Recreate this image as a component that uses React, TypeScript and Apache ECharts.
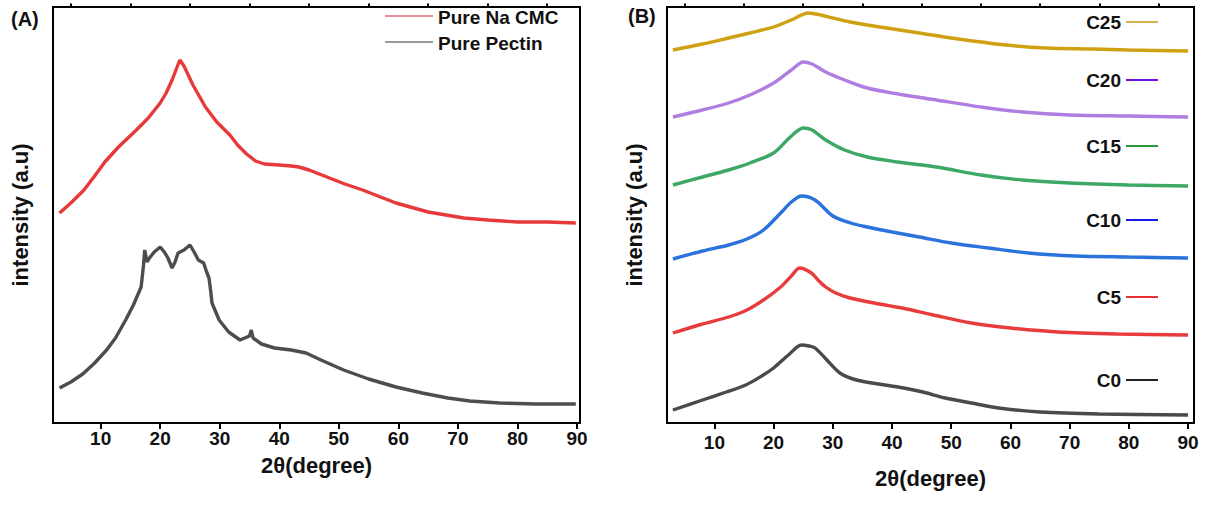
import React, { useEffect, useRef } from "react";
import * as echarts from "echarts";

// 2θ (degree) vs intensity (a.u., arbitrary offset units)
const pureNaCMC: [number, number][] = [
  [3.1, 210], [5, 220], [7.2, 233], [9, 247], [10.7, 261], [13, 276], [16, 293], [18, 305], [20, 320],
  [21, 330], [22, 343], [23.3, 363], [24, 357], [25.5, 338], [27.6, 316], [29.5, 301],
  [31.7, 288], [33, 278], [34.5, 269], [36, 262], [37.5, 259], [40, 258], [42, 257], [43.3, 256],
  [45, 253], [48, 246], [51, 239], [54, 233], [57, 226], [59.6, 220], [62, 216], [65, 211],
  [68, 208], [71, 205], [75, 203], [80, 201], [85, 201], [89.8, 200],
];
const purePectin: [number, number][] = [
  [3.1, 35], [5, 41], [7, 49], [9, 60], [11, 73], [12.5, 85], [14.2, 103], [15.5, 118],
  [16.8, 136], [17.2, 158], [17.4, 173], [17.8, 161], [18.2, 165], [19, 171], [20, 176],
  [20.7, 171], [21.3, 165], [22, 155], [22.5, 161], [23, 170], [24, 173], [25, 178],
  [25.7, 171], [26.4, 163], [27.3, 160], [27.8, 151], [28.2, 145], [28.5, 131], [28.7, 120],
  [29.9, 103], [31.5, 91], [33.4, 83], [35, 87], [35.3, 93], [35.6, 85], [37, 79], [39.2, 75],
  [42, 73], [44.5, 70], [47, 63], [50.8, 53], [55, 44], [59.6, 36], [64, 30], [68.3, 25],
  [72, 22], [77, 20], [83, 19], [89.8, 19],
];
const c25: [number, number][] = [
  [3, 373], [8, 379], [12.4, 385], [16, 390], [20, 396], [23, 403], [25.9, 410], [28, 408],
  [30, 405], [32.9, 401], [38, 396], [44.6, 390], [50, 385], [59.2, 378], [66, 375],
  [73.9, 374], [80, 373], [90, 372],
];
const c20: [number, number][] = [
  [3, 306], [8, 313], [12.4, 320], [16, 328], [20, 340], [23, 353], [25, 361], [26.5, 359],
  [28.8, 351], [32, 343], [35.8, 335], [41, 329], [47.5, 323], [55, 316], [62, 311],
  [70, 308], [80, 307], [90, 306],
];
const c15: [number, number][] = [
  [3, 238], [8, 246], [12.4, 253], [16, 260], [20, 270], [23, 287], [25, 295], [26.5, 293],
  [28.8, 283], [32, 273], [35.8, 266], [41, 261], [47.5, 256], [55, 248], [62, 243],
  [70, 240], [80, 238], [90, 237],
];
const c10: [number, number][] = [
  [3, 164], [8, 172], [12.4, 178], [15.5, 184], [18.3, 193], [21.2, 210], [23, 221],
  [24.7, 227], [27, 223], [30, 207], [33, 200], [35.8, 196], [40, 191], [44.6, 186],
  [50, 180], [56.3, 175], [63, 170], [71, 167], [80, 166], [90, 165],
];
const c5: [number, number][] = [
  [3, 90], [8, 99], [12.4, 106], [15.5, 113], [18.3, 123], [21.2, 136], [23, 147],
  [24.4, 155], [26.4, 150], [27.5, 143], [28.8, 136], [30.5, 130], [32.9, 125], [37, 120],
  [41.7, 115], [47, 108], [53.4, 100], [60, 95], [68, 91], [78, 89], [90, 88],
];
const c0: [number, number][] = [
  [3, 13], [8, 23], [12, 31], [15.3, 38], [18, 47], [20, 55], [22.5, 68], [24.7, 78],
  [26, 77], [27, 75], [29, 63], [31.2, 50], [34, 43], [38.8, 38], [42, 35], [45.2, 31],
  [49, 25], [53.4, 20], [58, 15], [65, 11], [75, 9], [90, 8],
];

const majorTicks = [10, 20, 30, 40, 50, 60, 70, 80, 90];
const minorTicks = [5, 15, 25, 35, 45, 55, 65, 75, 85];

const leftLegend = [
  { name: "Pure Na CMC", color: "#e26a78" },
  { name: "Pure Pectin", color: "#777777" },
];
const rightLegend = [
  { name: "C25", color: "#d8b24c", y: 22 },
  { name: "C20", color: "#6a10e0", y: 80 },
  { name: "C15", color: "#2a9a3a", y: 146 },
  { name: "C10", color: "#1a1ae6", y: 220 },
  { name: "C5", color: "#e83030", y: 297 },
  { name: "C0", color: "#222222", y: 380 },
];

const FONT = "'Liberation Sans', Arial, sans-serif";

export default function App() {
  const ref = useRef<HTMLDivElement>(null);
  useEffect(() => {
    if (!ref.current) return;
    const chart = echarts.init(ref.current, undefined, { renderer: "svg" });

    const majorAxis = (grid: number, max: number, gap: number, margin: number) => ({
      type: "value",
      gridIndex: grid,
      min: 2,
      max,
      name: "2θ(degree)",
      nameLocation: "middle",
      nameGap: gap,
      nameTextStyle: { fontFamily: FONT, fontWeight: "bold", fontSize: 22, color: "#111" },
      axisLine: { show: true, onZero: false, lineStyle: { color: "#000", width: 2 } },
      axisTick: { show: true, inside: false, length: 6, customValues: majorTicks, lineStyle: { color: "#000", width: 2 } },
      axisLabel: { show: true, customValues: majorTicks, margin, fontFamily: FONT, fontWeight: "bold", fontSize: 19, color: "#111" },
      splitLine: { show: false },
    });
    const minorAxis = (grid: number, max: number) => ({
      type: "value",
      gridIndex: grid,
      min: 2,
      max,
      axisLine: { show: true, onZero: false, lineStyle: { color: "#000", width: 2 } },
      axisTick: { show: true, inside: false, length: 3.5, customValues: minorTicks, lineStyle: { color: "#000", width: 2 } },
      axisLabel: { show: false },
      splitLine: { show: false },
    });
    const yAxis = (grid: number, gap: number) => ({
      type: "value",
      gridIndex: grid,
      min: 0,
      max: 416,
      name: "intensity (a.u)",
      nameLocation: "middle",
      nameRotate: 90,
      nameGap: gap,
      nameTextStyle: { fontFamily: FONT, fontWeight: "bold", fontSize: 22, color: "#111" },
      axisLine: { show: true, onZero: false, lineStyle: { color: "#000", width: 2 } },
      axisTick: { show: false },
      axisLabel: { show: false },
      splitLine: { show: false },
    });
    const line = (name: string, data: [number, number][], color: string, x: number, y: number, smooth: number) => ({
      type: "line",
      name,
      data,
      xAxisIndex: x,
      yAxisIndex: y,
      showSymbol: false,
      symbol: "none",
      smooth,
      lineStyle: { color, width: 3.4 },
      z: 3,
    });

    const graphic: any[] = [
      { type: "text", left: 11, top: 9, style: { text: "(A)", font: `bold 20px ${FONT}`, fill: "#111" } },
      { type: "text", left: 628, top: 6, style: { text: "(B)", font: `bold 20px ${FONT}`, fill: "#111" } },
    ];
    leftLegend.forEach((l, i) => {
      const y = 16 + i * 26;
      graphic.push({ type: "line", shape: { x1: 385, y1: y, x2: 433, y2: y }, style: { stroke: l.color, lineWidth: 1.6 } });
      graphic.push({ type: "text", x: 438, y: y + 1, style: { text: l.name, font: `bold 19px ${FONT}`, fill: "#111", textVerticalAlign: "middle", verticalAlign: "middle" } });
    });
    rightLegend.forEach((l) => {
      graphic.push({ type: "line", shape: { x1: 1126, y1: l.y, x2: 1158, y2: l.y }, style: { stroke: l.color, lineWidth: 2 } });
      graphic.push({ type: "text", x: 1121, y: l.y, style: { text: l.name, font: `bold 19px ${FONT}`, fill: "#111", align: "right", textAlign: "right", verticalAlign: "middle", textVerticalAlign: "middle" } });
    });

    chart.setOption({
      animation: false,
      backgroundColor: "#fff",
      grid: [
        { left: 53, top: 7, width: 527, height: 416, show: true, borderColor: "#000", borderWidth: 2, backgroundColor: "transparent" },
        { left: 667, top: 7, width: 527, height: 416, show: true, borderColor: "#000", borderWidth: 2, backgroundColor: "transparent" },
      ],
      xAxis: [majorAxis(0, 90.5, 31, 6), minorAxis(0, 90.5), majorAxis(1, 91, 44, 10), minorAxis(1, 91)],
      yAxis: [yAxis(0, 22), yAxis(1, 22)],
      series: [
        line("Pure Na CMC", pureNaCMC, "#e8393a", 0, 0, 0),
        line("Pure Pectin", purePectin, "#4d4d4d", 0, 0, 0),
        line("C25", c25, "#cfa012", 2, 1, 0.3),
        line("C20", c20, "#b07ee0", 2, 1, 0.3),
        line("C15", c15, "#3da865", 2, 1, 0.3),
        line("C10", c10, "#2a72dc", 2, 1, 0.3),
        line("C5", c5, "#e83c3c", 2, 1, 0.3),
        line("C0", c0, "#4a4a4a", 2, 1, 0.3),
      ],
      graphic,
    });
    return () => chart.dispose();
  }, []);
  return <div ref={ref} style={{ position: "fixed", left: 0, top: 0, width: 1210, height: 510, background: "#fff" }} />;
}
